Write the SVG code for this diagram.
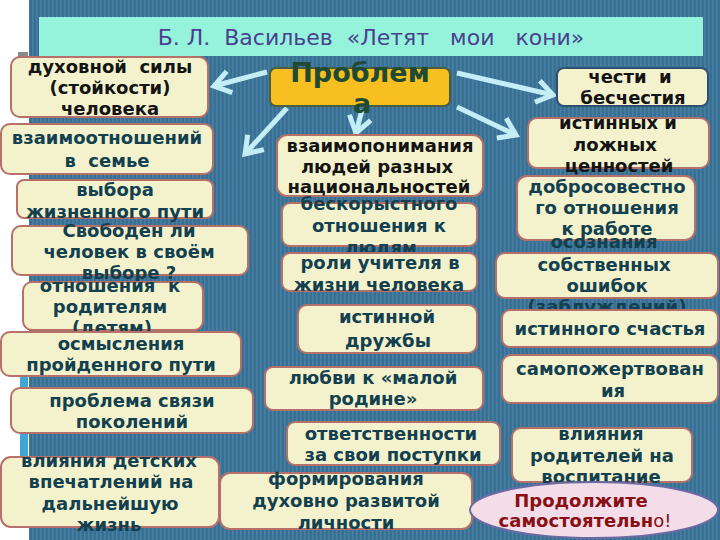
<svg xmlns="http://www.w3.org/2000/svg" width="720" height="540" viewBox="0 0 720 540">
<defs>
<pattern id="stripes" width="4" height="10" patternUnits="userSpaceOnUse">
<rect width="4" height="10" fill="#396f93"/>
<rect width="1.5" height="10" fill="#477ea3"/>
</pattern>
<marker id="ah" markerUnits="userSpaceOnUse" viewBox="0 0 26 26" markerWidth="26" markerHeight="26" refX="21" refY="13" orient="auto">
<path d="M5,2 L21,13 L5,24" fill="none" stroke="#c4eef6" stroke-width="5"/>
</marker>
<style>
.box{fill:#f3f2cd;stroke:#b5706a;stroke-width:2}
.t{font-family:"DejaVu Sans","Noto Sans",sans-serif;font-weight:bold;font-size:18px;fill:#12404f;text-anchor:middle}
.k{fill:#141414}
.arrow{stroke:#c4eef6;stroke-width:5;fill:none;marker-end:url(#ah)}
</style>
</defs>
<rect width="720" height="540" fill="#ffffff"/>
<rect x="29" y="0" width="691" height="540" fill="url(#stripes)"/>
<rect x="20" y="376" width="8" height="86" fill="#3fa6d6"/>
<rect x="18" y="52" width="10" height="5" fill="#8a8a8a"/>
<g id="title">
<rect x="39" y="17" width="664" height="39" fill="#95f3dc"/>
<text x="371" y="45" font-family="DejaVu Sans, sans-serif" font-size="22" fill="#4b3f8f" text-anchor="middle" xml:space="preserve">Б. Л.  Васильев  «Летят   мои   кони»</text>
</g>
<g id="connectors">
<line class="arrow" x1="267" y1="72" x2="214" y2="86"/>
<line class="arrow" x1="287" y1="108" x2="245" y2="154"/>
<line class="arrow" x1="362" y1="110" x2="356" y2="133"/>
<line class="arrow" x1="457" y1="73" x2="553" y2="95"/>
<line class="arrow" x1="457" y1="107" x2="516" y2="135"/>
</g>
<g id="n-problem">
<rect x="270" y="68" width="180" height="38" rx="6" fill="#f7bf1f" stroke="#4a5e3e" stroke-width="2"/>
<text x="360" y="82" font-family="DejaVu Sans, sans-serif" font-weight="bold" font-size="27" fill="#1f4a34" text-anchor="middle">Проблем</text>
<text x="362" y="113" font-family="DejaVu Sans, sans-serif" font-weight="bold" font-size="27" fill="#1f4a34" text-anchor="middle">а</text>
</g>
<g id="n1">
<rect class="box" x="11" y="57" width="197" height="60" rx="9"/>
<text class="t k" x="110" xml:space="preserve"><tspan x="110" y="73">духовной  силы</tspan><tspan x="110" y="94">(стойкости)</tspan><tspan x="110" y="115">человека</tspan></text>
</g>
<g id="n2">
<rect class="box" x="1" y="124" width="212" height="50" rx="9"/>
<text class="t" xml:space="preserve"><tspan x="107" y="144">взаимоотношений</tspan><tspan x="107" y="167">в  семье</tspan></text>
</g>
<g id="n3">
<rect class="box" x="17" y="180" width="196" height="38" rx="7"/>
<text class="t"><tspan x="115" y="196">выбора</tspan><tspan x="115" y="218">жизненного пути</tspan></text>
</g>
<g id="n4">
<rect class="box" x="12" y="226" width="236" height="49" rx="9"/>
<text class="t"><tspan x="129" y="237">Свободен ли</tspan><tspan x="129" y="258">человек в своём</tspan><tspan x="129" y="279">выборе ?</tspan></text>
</g>
<g id="n5">
<rect class="box" x="23" y="282" width="180" height="48" rx="9"/>
<text class="t" xml:space="preserve"><tspan x="110" y="292">отношения  к</tspan><tspan x="110" y="313">родителям</tspan><tspan x="112" y="334">(детям)</tspan></text>
</g>
<g id="n6">
<rect class="box" x="1" y="332" width="240" height="44" rx="9"/>
<text class="t"><tspan x="121" y="350">осмысления</tspan><tspan x="121" y="371">пройденного пути</tspan></text>
</g>
<g id="n7">
<rect class="box" x="11" y="388" width="242" height="45" rx="9"/>
<text class="t"><tspan x="132" y="407">проблема связи</tspan><tspan x="132" y="428">поколений</tspan></text>
</g>
<g id="n8">
<rect class="box" x="1" y="457" width="218" height="70" rx="10"/>
<text class="t"><tspan x="109" y="467">влияния детских</tspan><tspan x="111" y="488">впечатлений на</tspan><tspan x="110" y="510">дальнейшую</tspan><tspan x="109" y="531">жизнь</tspan></text>
</g>
<g id="n9">
<rect class="box" x="220" y="473" width="252" height="56" rx="10"/>
<text class="t"><tspan x="346" y="485">формирования</tspan><tspan x="346" y="507">духовно развитой</tspan><tspan x="346" y="529">личности</tspan></text>
</g>
<g id="n11">
<rect x="557" y="68" width="151" height="38" rx="7" fill="#f3f2cd" stroke="#2f4f6f" stroke-width="2"/>
<text class="t k" xml:space="preserve"><tspan x="630" y="83">чести  и</tspan><tspan x="633" y="104">бесчестия</tspan></text>
</g>
<g id="n12">
<rect class="box" x="528" y="118" width="181" height="50" rx="9"/>
<text class="t k"><tspan x="618" y="129">истинных и</tspan><tspan x="615" y="151">ложных</tspan><tspan x="619" y="172">ценностей</tspan></text>
</g>
<g id="n13">
<rect class="box" x="277" y="135" width="206" height="61" rx="10"/>
<text class="t k"><tspan x="380" y="152">взаимопонимания</tspan><tspan x="377" y="173">людей разных</tspan><tspan x="379" y="193">национальностей</tspan></text>
</g>
<g id="n14">
<rect class="box" x="517" y="176" width="178" height="64" rx="10"/>
<text class="t"><tspan x="607" y="193">добросовестно</tspan><tspan x="607" y="214">го отношения</tspan><tspan x="607" y="235">к работе</tspan></text>
</g>
<g id="n15">
<rect class="box" x="282" y="203" width="195" height="43" rx="8"/>
<text class="t"><tspan x="379" y="210">бескорыстного</tspan><tspan x="379" y="232">отношения к</tspan><tspan x="381" y="254">людям</tspan></text>
</g>
<g id="n16">
<rect class="box" x="282" y="253" width="195" height="38" rx="8"/>
<text class="t"><tspan x="380" y="269">роли учителя в</tspan><tspan x="379" y="291">жизни человека</tspan></text>
</g>
<g id="n17">
<rect class="box" x="496" y="253" width="222" height="45" rx="9"/>
<text class="t"><tspan x="604" y="248">осознания</tspan><tspan x="604" y="271">собственных</tspan><tspan x="607" y="292">ошибок</tspan><tspan x="607" y="313">(заблуждений)</tspan></text>
</g>
<g id="n18">
<rect class="box" x="502" y="310" width="216" height="37" rx="8"/>
<text class="t" x="610" y="335">истинного счастья</text>
</g>
<g id="n19">
<rect class="box" x="298" y="305" width="179" height="48" rx="9"/>
<text class="t"><tspan x="387" y="323">истинной</tspan><tspan x="388" y="347">дружбы</tspan></text>
</g>
<g id="n20">
<rect class="box" x="502" y="355" width="216" height="48" rx="9"/>
<text class="t"><tspan x="610" y="375">самопожертвован</tspan><tspan x="613" y="397">ия</tspan></text>
</g>
<g id="n21">
<rect class="box" x="265" y="367" width="218" height="43" rx="8"/>
<text class="t"><tspan x="373" y="384">любви к «малой</tspan><tspan x="373" y="405">родине»</tspan></text>
</g>
<g id="n22">
<rect class="box" x="287" y="422" width="213" height="43" rx="8"/>
<text class="t"><tspan x="391" y="440">ответственности</tspan><tspan x="393" y="461">за свои поступки</tspan></text>
</g>
<g id="n23">
<rect class="box" x="512" y="428" width="180" height="54" rx="9"/>
<text class="t"><tspan x="601" y="440">влияния</tspan><tspan x="602" y="462">родителей на</tspan><tspan x="601" y="483">воспитание</tspan></text>
</g>
<g id="n24">
<ellipse cx="594" cy="510" rx="124" ry="28" fill="#f2dde8" stroke="#6c6aa4" stroke-width="2"/>
<text class="t" style="fill:#8a0f14;font-size:18px" x="581" y="507">Продолжите</text>
<text class="t" style="fill:#8a0f14;font-size:18px" x="585" y="527">самостоятельн<tspan font-weight="normal">о!</tspan></text>
</g>
</svg>
